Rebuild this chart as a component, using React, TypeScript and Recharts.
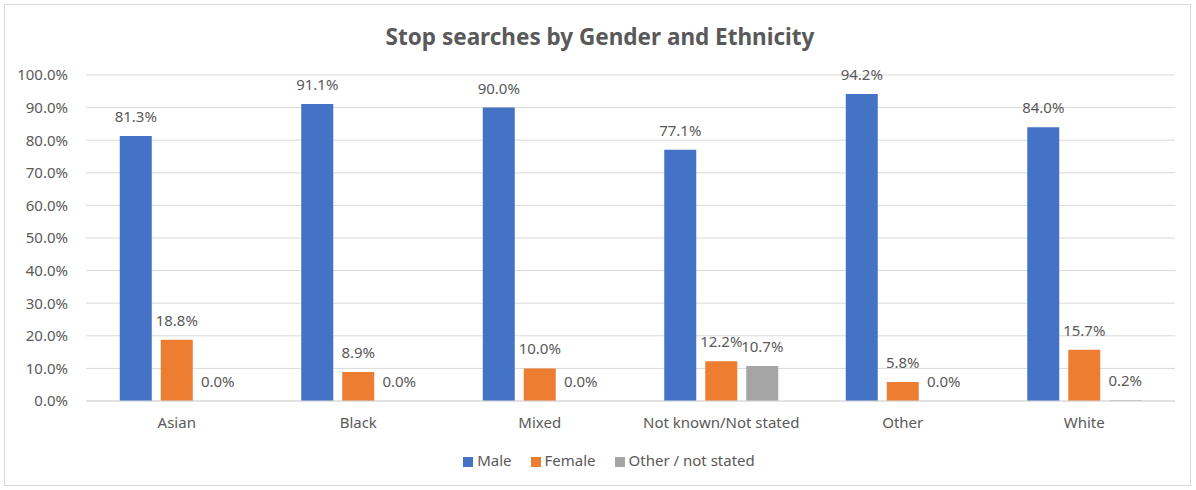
import React from "react";
import { BarChart, Bar, XAxis, YAxis, CartesianGrid, Legend, LabelList } from "recharts";

const categories = ["Asian", "Black", "Mixed", "Not known/Not stated", "Other", "White"];
const male = [81.3, 91.1, 90.0, 77.1, 94.2, 84.0];
const female = [18.8, 8.9, 10.0, 12.2, 5.8, 15.7];
const otherNotStated = [0.0, 0.0, 0.0, 10.7, 0.0, 0.2];
const yTicks = [0, 10, 20, 30, 40, 50, 60, 70, 80, 90, 100];
const seriesOrder = ["Male", "Female", "Other / not stated"];

const data = categories.map((name, i) => ({
  name,
  male: male[i],
  female: female[i],
  other: otherNotStated[i],
}));

const font = "'Noto Sans', 'Open Sans', sans-serif";
const textColor = "#595959";
const pct = (v: number) => `${Number(v).toFixed(1)}%`;

// custom label so zero-height bars still get their "0.0%" text
const barLabel = (p: any) => {
  const x = Number(p.x) + Number(p.width) / 2;
  const y = Number(p.y) - 14;
  return (
    <text x={x} y={y} textAnchor="middle" fill={textColor} fontSize={15} fontFamily={font}>
      {pct(Number(p.value))}
    </text>
  );
};

export default function App() {
  return (
    <div style={{ position: "fixed", left: 0, top: 0, width: 1196, height: 490, background: "#fff" }}>
      <style>{`.recharts-legend-item{margin-right:19px !important}`}</style>
      <div
        style={{
          position: "absolute",
          left: 4,
          top: 4,
          width: 1187,
          height: 482,
          border: "1px solid #d9d9d9",
          boxSizing: "border-box",
        }}
      />
      <div
        style={{
          position: "absolute",
          left: 0,
          top: 21,
          width: 1200,
          textAlign: "center",
          fontFamily: font,
          fontWeight: 700,
          fontSize: 22.5,
          color: textColor,
        }}
      >
        Stop searches by Gender and Ethnicity
      </div>
      <BarChart
        width={1196}
        height={490}
        data={data}
        margin={{ top: 75, right: 21, left: 6, bottom: 39 }}
        barCategoryGap="18.6%"
        barGap={9}
        style={{ position: "absolute", left: 0, top: 0 }}
      >
        <CartesianGrid vertical={false} stroke="#d9d9d9" />
        <XAxis
          dataKey="name"
          tickLine={false}
          axisLine={{ stroke: "#d9d9d9" }}
          tickMargin={10}
          tick={{ fill: textColor, fontSize: 15, fontFamily: font }}
          interval={0}
        />
        <YAxis
          width={80}
          domain={[0, 100]}
          ticks={yTicks}
          tickFormatter={pct}
          tickLine={false}
          axisLine={false}
          tickMargin={12}
          tick={{ fill: textColor, fontSize: 15, fontFamily: font }}
        />
        <Legend
          verticalAlign="bottom"
          iconType="square"
          iconSize={10}
          itemSorter={(item: any) => seriesOrder.indexOf(item.value)}
          wrapperStyle={{ top: 450, fontFamily: font, fontSize: 15, paddingLeft: 28 }}
          formatter={(v: string) => <span style={{ color: textColor }}>{v}</span>}
        />
        <Bar dataKey="male" name="Male" fill="#4472C4" isAnimationActive={false}>
          <LabelList dataKey="male" content={barLabel} />
        </Bar>
        <Bar dataKey="female" name="Female" fill="#ED7D31" isAnimationActive={false}>
          <LabelList dataKey="female" content={barLabel} />
        </Bar>
        <Bar dataKey="other" name="Other / not stated" fill="#A5A5A5" minPointSize={0.01} isAnimationActive={false}>
          <LabelList dataKey="other" content={barLabel} />
        </Bar>
      </BarChart>
    </div>
  );
}
